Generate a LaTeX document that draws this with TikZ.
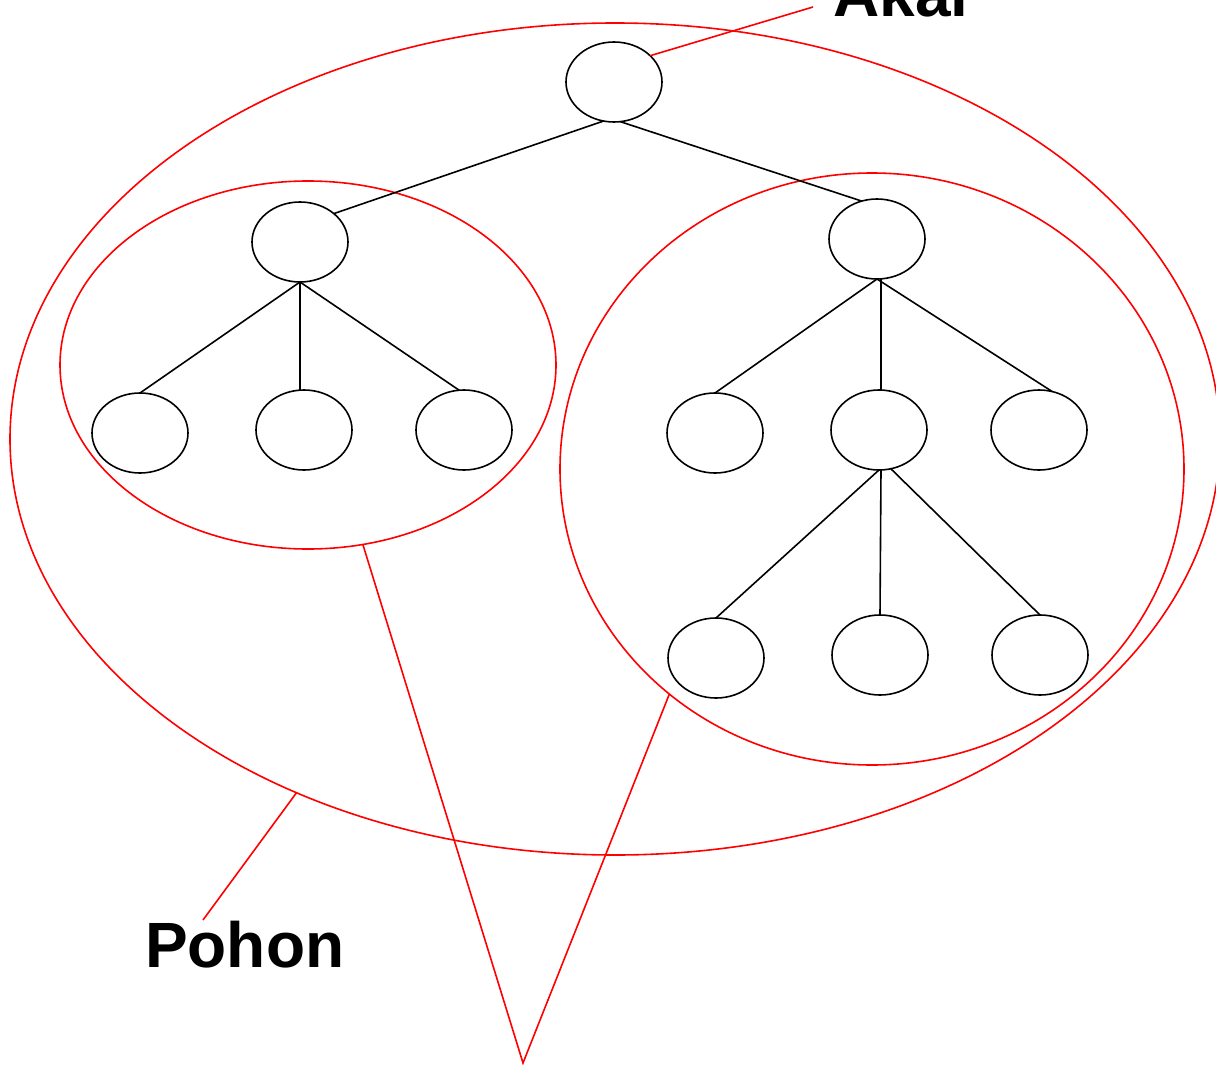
\documentclass[tikz,border=0pt]{standalone}
\usepackage{fontspec}
\setmainfont{Liberation Sans}
\usetikzlibrary{shapes.geometric}

\begin{document}
\begin{tikzpicture}[x=1pt, y=-1pt,
  simpul/.style={draw, ellipse, line width=1.6pt, minimum width=96pt, minimum height=80pt, inner sep=0pt, outer sep=0pt},
  kelompok/.style={draw=red, ellipse, line width=1.6pt, inner sep=0pt, outer sep=0pt},
  garis/.style={line width=1.6pt},
  tunjuk/.style={red, line width=1.6pt},
  label/.style={font=\fontsize{64}{64}\selectfont\bfseries, inner sep=0pt, anchor=base west}]
\useasboundingbox (0,0) rectangle (1216,1065);

% Groups
\node[kelompok, minimum width=1210pt, minimum height=832pt] (pohon) at (615,439) {};
\node[kelompok, minimum width=496pt, minimum height=368pt] (kiri) at (308,365) {};
\node[kelompok, minimum width=624pt, minimum height=592pt] (kanan) at (872,469) {};

% Nodes
\node[simpul] (akar) at (614,82) {};
\node[simpul] (a) at (300,242) {};
\node[simpul] (b) at (877,239) {};
\node[simpul] (a1) at (140,433) {};
\node[simpul] (a2) at (304,430) {};
\node[simpul] (a3) at (464,430) {};
\node[simpul] (b1) at (715,433) {};
\node[simpul] (b2) at (879,430) {};
\node[simpul] (b3) at (1039,430) {};
\node[simpul] (c1) at (716,658) {};
\node[simpul] (c2) at (880,655) {};
\node[simpul] (c3) at (1040,655) {};

% Edges
\draw[garis] (akar.255) -- (a.40);
\draw[garis] (akar.279) -- (b.112);
\draw[garis] (a.south) -- (a1.north);
\draw[garis] (a.south) -- (a.south |- a2.north);
\draw[garis] (a.south) -- (a3.97);
\draw[garis] (b.south) -- (b1.north);
\draw[garis] (b.south) ++(4,0) -- (b2.north -| 881,0);
\draw[garis] (b.south) -- (b3.71);
\draw[garis] (b2.south) -- (c1.north);
\draw[garis] (b2.south) ++(2,0) -- (c2.north);
\draw[garis] (b2.287) -- (c3.north);

% Labels
\node[label] (tAkar) at (833,17) {Akar};
\node[label] (tPohon) at (145,967) {Pohon};
\coordinate (ujungAkar) at (813,7);
\coordinate (ujungPohon) at (203,920);
\coordinate (puncak) at (523,1063);

\draw[tunjuk] (akar.36) -- (ujungAkar);
\draw[tunjuk] (ujungPohon) -- (pohon.228.4);
\draw[tunjuk] (kiri.287) -- (puncak) -- (kanan.228);
\end{tikzpicture}
\end{document}
